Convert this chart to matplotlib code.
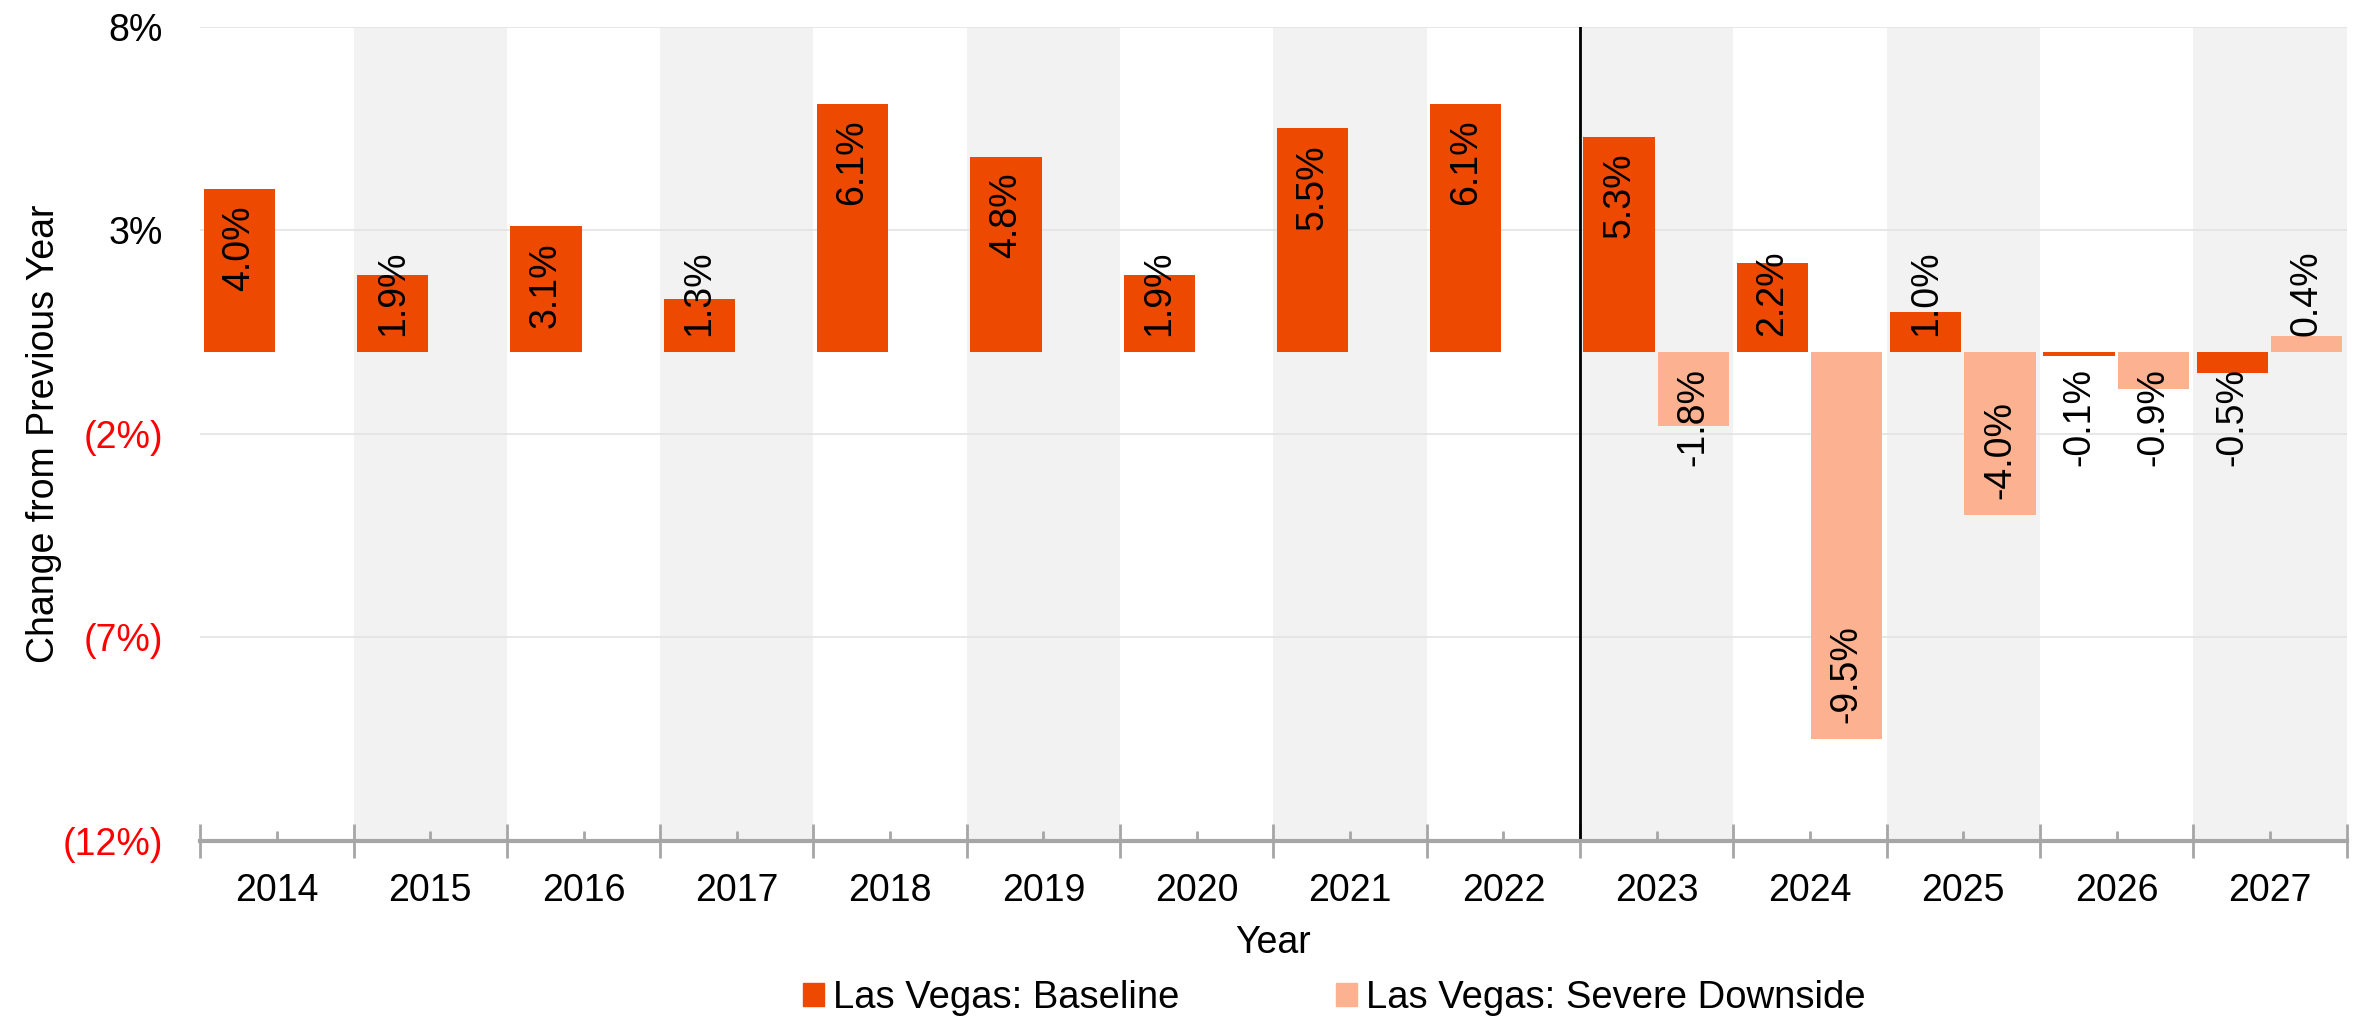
import numpy as np
import matplotlib
matplotlib.use("Agg")
import matplotlib.pyplot as plt
from matplotlib.patches import Patch

plt.rcParams["font.family"] = ["Liberation Sans", "DejaVu Sans"]

years = ["2014", "2015", "2016", "2017", "2018", "2019", "2020",
         "2021", "2022", "2023", "2024", "2025", "2026", "2027"]
baseline = [4.0, 1.9, 3.1, 1.3, 6.1, 4.8, 1.9, 5.5, 6.1, 5.3, 2.2, 1.0, -0.1, -0.5]
severe = [None, None, None, None, None, None, None, None, None,
          -1.8, -9.5, -4.0, -0.9, 0.4]
y_ticks = [8, 3, -2, -7, -12]

BASE_COLOR = "#EE4900"
SEVERE_COLOR = "#FCB291"
BAND_COLOR = "#F2F2F2"
GRID_COLOR = "#E3E3E3"
AXIS_COLOR = "#A6A6A6"
FS = 27
LABEL_PAD = 0.39


def fmt_tick(v):
    return f"({abs(v):g}%)" if v < 0 else f"{v:g}%"


fig = plt.figure(figsize=(23.56, 10.23), dpi=100)
ax = fig.add_axes([0.085, 0.178, 0.911, 0.796])

x = np.arange(len(years))
ax.set_xlim(-0.5, len(years) - 0.5)
ax.set_ylim(-12, 8)

# alternating grey bands behind odd years
for i in x:
    if i % 2 == 1:
        ax.axvspan(i - 0.5, i + 0.5, color=BAND_COLOR, lw=0, zorder=0)

for t in y_ticks[:-1]:
    ax.axhline(t, color=GRID_COLOR, lw=1.2, zorder=1)

width = 0.465
ax.bar(x - 0.245, baseline, width, color=BASE_COLOR, zorder=2)
sev_x = [xi + 0.24 for xi, v in zip(x, severe) if v is not None]
sev_v = [v for v in severe if v is not None]
ax.bar(sev_x, sev_v, width, color=SEVERE_COLOR, zorder=2)

# forecast divider
ax.plot([8.5, 8.5], [-12, 8], color="black", lw=2, zorder=3)

# axes styling
for side in ["top", "right", "left"]:
    ax.spines[side].set_visible(False)
ax.spines["bottom"].set_color(AXIS_COLOR)
ax.spines["bottom"].set_linewidth(3)
ax.spines["bottom"].set_zorder(4)

ax.set_xticks(x)
ax.set_xticklabels(years, fontsize=FS)
ax.set_xticks(np.arange(-0.5, len(years)), minor=True)
ax.tick_params(axis="x", which="major", direction="in", length=7, width=2,
               color=AXIS_COLOR, pad=23)
ax.tick_params(axis="x", which="minor", direction="inout", length=24, width=2,
               color=AXIS_COLOR)

ax.set_yticks(y_ticks)
ax.set_yticklabels([fmt_tick(v) for v in y_ticks], fontsize=FS)
ax.tick_params(axis="y", length=0, pad=27)
for lab, v in zip(ax.get_yticklabels(), y_ticks):
    lab.set_color("red" if v < 0 else "black")

ax.set_xlabel("Year", fontsize=FS)
ax.xaxis.set_label_coords(0.5, -0.1035)
ax.set_ylabel("Change from Previous Year", fontsize=FS)
ax.yaxis.set_label_coords(-0.0645, 0.5)

# value labels: inside end, pushed back toward the axis when too short
fig.canvas.draw()
renderer = fig.canvas.get_renderer()
inv = ax.transData.inverted()


def add_label(xpos, v):
    t = ax.text(xpos, 0, f"{v:.1f}%", rotation=90, ha="center",
                va="bottom" if v >= 0 else "top", fontsize=FS, zorder=5)
    bb = t.get_window_extent(renderer)
    length = inv.transform((0, bb.y1))[1] - inv.transform((0, bb.y0))[1]
    if v >= 0:
        t.set_y(max(LABEL_PAD, v - LABEL_PAD - length))
    else:
        t.set_y(min(-LABEL_PAD, v + LABEL_PAD + length))


for xi, v in zip(x, baseline):
    add_label(xi - 0.245, v)
for xi, v in zip(sev_x, sev_v):
    add_label(xi, v)

handles = [Patch(color=BASE_COLOR, label="Las Vegas: Baseline"),
           Patch(color=SEVERE_COLOR, label="Las Vegas: Severe Downside")]
fig.legend(handles=handles, loc="center", bbox_to_anchor=(0.5664, 0.024), ncol=2,
           frameon=False, fontsize=27.5, handlelength=0.55, handleheight=0.55,
           handletextpad=0.24, columnspacing=4.1, borderpad=0.2)

fig.savefig("out.png", dpi=100)
